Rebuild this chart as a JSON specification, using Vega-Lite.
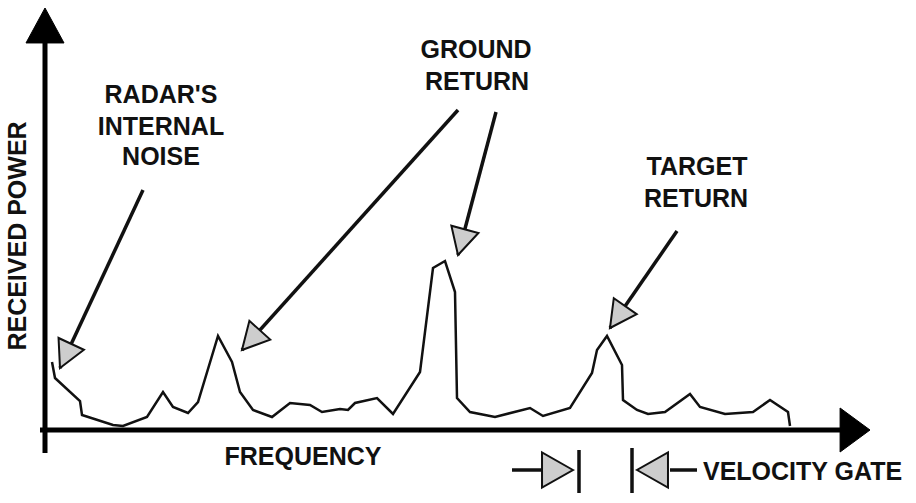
{
  "$schema": "https://vega.github.io/schema/vega-lite/v6.json",
  "width": 916,
  "height": 503,
  "autosize": {"type": "fit", "contains": "padding"},
  "padding": 0,
  "background": "white",
  "config": {"view": {"stroke": null}, "text": {"font": "Liberation Sans", "fontWeight": "bold", "fontSize": 25, "color": "#111"}},
  "datasets": {
    "curve": [
      {"frequency": 7, "power": 68}, {"frequency": 10, "power": 52}, {"frequency": 35, "power": 29},
      {"frequency": 37, "power": 15}, {"frequency": 68, "power": 5}, {"frequency": 78, "power": 4},
      {"frequency": 102, "power": 13}, {"frequency": 118, "power": 38}, {"frequency": 128, "power": 23},
      {"frequency": 143, "power": 17}, {"frequency": 153, "power": 28}, {"frequency": 173, "power": 94},
      {"frequency": 187, "power": 68}, {"frequency": 195, "power": 38}, {"frequency": 208, "power": 20},
      {"frequency": 227, "power": 13}, {"frequency": 245, "power": 27}, {"frequency": 265, "power": 25},
      {"frequency": 277, "power": 18}, {"frequency": 295, "power": 21}, {"frequency": 303, "power": 20},
      {"frequency": 310, "power": 27}, {"frequency": 332, "power": 32}, {"frequency": 348, "power": 16},
      {"frequency": 375, "power": 58}, {"frequency": 388, "power": 162}, {"frequency": 400, "power": 169},
      {"frequency": 410, "power": 138}, {"frequency": 412, "power": 32}, {"frequency": 425, "power": 18},
      {"frequency": 450, "power": 13}, {"frequency": 485, "power": 22}, {"frequency": 498, "power": 14},
      {"frequency": 525, "power": 22}, {"frequency": 547, "power": 57}, {"frequency": 552, "power": 80},
      {"frequency": 562, "power": 94}, {"frequency": 577, "power": 65}, {"frequency": 578, "power": 30},
      {"frequency": 592, "power": 20}, {"frequency": 603, "power": 16}, {"frequency": 620, "power": 18},
      {"frequency": 645, "power": 36}, {"frequency": 655, "power": 23}, {"frequency": 680, "power": 16},
      {"frequency": 708, "power": 18}, {"frequency": 725, "power": 30}, {"frequency": 743, "power": 18},
      {"frequency": 745, "power": 4}
    ],
    "pointers": [
      {"name": "noise", "f": 98, "p": 240, "f2": 15, "p2": 62},
      {"name": "ground_left", "f": 413, "p": 320, "f2": 197, "p2": 80},
      {"name": "ground_main", "f": 451, "p": 318, "f2": 413, "p2": 175},
      {"name": "target", "f": 632, "p": 199, "f2": 565, "p2": 102}
    ],
    "axes": [
      {"name": "power", "f": 0, "p": -23, "f2": 0, "p2": 387},
      {"name": "frequency", "f": -5, "p": 0, "f2": 800, "p2": 0}
    ],
    "axisTips": [
      {"name": "power", "f": 0, "p": 422},
      {"name": "frequency", "f": 825, "p": 0}
    ],
    "gate": [
      {"f": 467, "p": -40, "f2": 497, "p2": -40},
      {"f": 625, "p": -40, "f2": 652, "p2": -40},
      {"f": 534, "p": -20, "f2": 534, "p2": -63},
      {"f": 587, "p": -18, "f2": 587, "p2": -63}
    ],
    "gateTips": [
      {"side": "lower", "f": 528, "p": -40},
      {"side": "upper", "f": 592, "p": -40}
    ],
    "labels": [
      {"text": "RADAR'S", "f": 116, "p": 327},
      {"text": "INTERNAL", "f": 116, "p": 295},
      {"text": "NOISE", "f": 116, "p": 265},
      {"text": "GROUND", "f": 431, "p": 372},
      {"text": "RETURN", "f": 432, "p": 340},
      {"text": "TARGET", "f": 652, "p": 255},
      {"text": "RETURN", "f": 651, "p": 223},
      {"text": "FREQUENCY", "f": 258, "p": -35}
    ]
  },
  "layer": [
    {
      "data": {"name": "curve"},
      "mark": {"type": "line", "color": "#111", "strokeWidth": 2.5},
      "encoding": {
        "x": {"field": "frequency", "type": "quantitative", "scale": {"domain": [-45, 871], "nice": false, "zero": false}, "axis": null},
        "y": {"field": "power", "type": "quantitative", "scale": {"domain": [-73, 430], "nice": false, "zero": false}, "axis": null}
      }
    },
    {
      "data": {"name": "pointers"},
      "mark": {"type": "rule", "color": "#111", "strokeWidth": 3.5},
      "encoding": {
        "x": {"field": "f", "type": "quantitative", "scale": {"domain": [-45, 871], "nice": false, "zero": false}, "axis": null},
        "y": {"field": "p", "type": "quantitative", "scale": {"domain": [-73, 430], "nice": false, "zero": false}, "axis": null},
        "x2": {"field": "f2"},
        "y2": {"field": "p2"}
      }
    },
    {
      "data": {"name": "pointers"},
      "transform": [{"filter": "datum.name == 'noise'"}],
      "mark": {"type": "point", "shape": "M0,0L-1,1.9L1,1.9Z", "size": 784, "filled": true, "fill": "#cdcdcd", "stroke": "#111", "strokeWidth": 2, "opacity": 1, "angle": 205},
      "encoding": {
        "x": {"field": "f2", "type": "quantitative", "scale": {"domain": [-45, 871], "nice": false, "zero": false}, "axis": null},
        "y": {"field": "p2", "type": "quantitative", "scale": {"domain": [-73, 430], "nice": false, "zero": false}, "axis": null}
      }
    },
    {
      "data": {"name": "pointers"},
      "transform": [{"filter": "datum.name == 'ground_left'"}],
      "mark": {"type": "point", "shape": "M0,0L-1,1.9L1,1.9Z", "size": 784, "filled": true, "fill": "#cdcdcd", "stroke": "#111", "strokeWidth": 2, "opacity": 1, "angle": 222},
      "encoding": {
        "x": {"field": "f2", "type": "quantitative", "scale": {"domain": [-45, 871], "nice": false, "zero": false}, "axis": null},
        "y": {"field": "p2", "type": "quantitative", "scale": {"domain": [-73, 430], "nice": false, "zero": false}, "axis": null}
      }
    },
    {
      "data": {"name": "pointers"},
      "transform": [{"filter": "datum.name == 'ground_main'"}],
      "mark": {"type": "point", "shape": "M0,0L-1,1.9L1,1.9Z", "size": 784, "filled": true, "fill": "#cdcdcd", "stroke": "#111", "strokeWidth": 2, "opacity": 1, "angle": 195},
      "encoding": {
        "x": {"field": "f2", "type": "quantitative", "scale": {"domain": [-45, 871], "nice": false, "zero": false}, "axis": null},
        "y": {"field": "p2", "type": "quantitative", "scale": {"domain": [-73, 430], "nice": false, "zero": false}, "axis": null}
      }
    },
    {
      "data": {"name": "pointers"},
      "transform": [{"filter": "datum.name == 'target'"}],
      "mark": {"type": "point", "shape": "M0,0L-1,1.9L1,1.9Z", "size": 784, "filled": true, "fill": "#cdcdcd", "stroke": "#111", "strokeWidth": 2, "opacity": 1, "angle": 215},
      "encoding": {
        "x": {"field": "f2", "type": "quantitative", "scale": {"domain": [-45, 871], "nice": false, "zero": false}, "axis": null},
        "y": {"field": "p2", "type": "quantitative", "scale": {"domain": [-73, 430], "nice": false, "zero": false}, "axis": null}
      }
    },
    {
      "data": {"name": "axes"},
      "mark": {"type": "rule", "color": "#000", "strokeWidth": 5},
      "encoding": {
        "x": {"field": "f", "type": "quantitative", "scale": {"domain": [-45, 871], "nice": false, "zero": false}, "axis": null},
        "y": {"field": "p", "type": "quantitative", "scale": {"domain": [-73, 430], "nice": false, "zero": false}, "axis": null},
        "x2": {"field": "f2"},
        "y2": {"field": "p2"}
      }
    },
    {
      "data": {"name": "axisTips"},
      "transform": [{"filter": "datum.name == 'power'"}],
      "mark": {"type": "point", "shape": "M0,0L-1,1.84L1,1.84Z", "size": 1444, "filled": true, "fill": "#000", "stroke": "#000", "strokeWidth": 1, "opacity": 1, "angle": 0},
      "encoding": {
        "x": {"field": "f", "type": "quantitative", "scale": {"domain": [-45, 871], "nice": false, "zero": false}, "axis": null},
        "y": {"field": "p", "type": "quantitative", "scale": {"domain": [-73, 430], "nice": false, "zero": false}, "axis": null}
      }
    },
    {
      "data": {"name": "axisTips"},
      "transform": [{"filter": "datum.name == 'frequency'"}],
      "mark": {"type": "point", "shape": "M0,0L-1,1.36L1,1.36Z", "size": 1936, "filled": true, "fill": "#000", "stroke": "#000", "strokeWidth": 1, "opacity": 1, "angle": 90},
      "encoding": {
        "x": {"field": "f", "type": "quantitative", "scale": {"domain": [-45, 871], "nice": false, "zero": false}, "axis": null},
        "y": {"field": "p", "type": "quantitative", "scale": {"domain": [-73, 430], "nice": false, "zero": false}, "axis": null}
      }
    },
    {
      "data": {"name": "gate"},
      "mark": {"type": "rule", "color": "#111", "strokeWidth": 3.5},
      "encoding": {
        "x": {"field": "f", "type": "quantitative", "scale": {"domain": [-45, 871], "nice": false, "zero": false}, "axis": null},
        "y": {"field": "p", "type": "quantitative", "scale": {"domain": [-73, 430], "nice": false, "zero": false}, "axis": null},
        "x2": {"field": "f2"},
        "y2": {"field": "p2"}
      }
    },
    {
      "data": {"name": "gateTips"},
      "transform": [{"filter": "datum.side == 'lower'"}],
      "mark": {"type": "point", "shape": "M0,0L-1,1.77L1,1.77Z", "size": 1225, "filled": true, "fill": "#cdcdcd", "stroke": "#111", "strokeWidth": 2, "opacity": 1, "angle": 90},
      "encoding": {
        "x": {"field": "f", "type": "quantitative", "scale": {"domain": [-45, 871], "nice": false, "zero": false}, "axis": null},
        "y": {"field": "p", "type": "quantitative", "scale": {"domain": [-73, 430], "nice": false, "zero": false}, "axis": null}
      }
    },
    {
      "data": {"name": "gateTips"},
      "transform": [{"filter": "datum.side == 'upper'"}],
      "mark": {"type": "point", "shape": "M0,0L-1,1.77L1,1.77Z", "size": 1225, "filled": true, "fill": "#cdcdcd", "stroke": "#111", "strokeWidth": 2, "opacity": 1, "angle": 270},
      "encoding": {
        "x": {"field": "f", "type": "quantitative", "scale": {"domain": [-45, 871], "nice": false, "zero": false}, "axis": null},
        "y": {"field": "p", "type": "quantitative", "scale": {"domain": [-73, 430], "nice": false, "zero": false}, "axis": null}
      }
    },
    {
      "data": {"name": "labels"},
      "mark": {"type": "text", "align": "center", "baseline": "alphabetic"},
      "encoding": {
        "x": {"field": "f", "type": "quantitative", "scale": {"domain": [-45, 871], "nice": false, "zero": false}, "axis": null},
        "y": {"field": "p", "type": "quantitative", "scale": {"domain": [-73, 430], "nice": false, "zero": false}, "axis": null},
        "text": {"field": "text"}
      }
    },
    {
      "data": {"values": [{"text": "VELOCITY GATE", "f": 658, "p": -50}]},
      "mark": {"type": "text", "align": "left", "baseline": "alphabetic"},
      "encoding": {
        "x": {"field": "f", "type": "quantitative", "scale": {"domain": [-45, 871], "nice": false, "zero": false}, "axis": null},
        "y": {"field": "p", "type": "quantitative", "scale": {"domain": [-73, 430], "nice": false, "zero": false}, "axis": null},
        "text": {"field": "text"}
      }
    },
    {
      "data": {"values": [{"text": "RECEIVED POWER", "f": -19, "p": 194}]},
      "mark": {"type": "text", "align": "center", "baseline": "alphabetic", "angle": 270},
      "encoding": {
        "x": {"field": "f", "type": "quantitative", "scale": {"domain": [-45, 871], "nice": false, "zero": false}, "axis": null},
        "y": {"field": "p", "type": "quantitative", "scale": {"domain": [-73, 430], "nice": false, "zero": false}, "axis": null},
        "text": {"field": "text"}
      }
    }
  ]
}
